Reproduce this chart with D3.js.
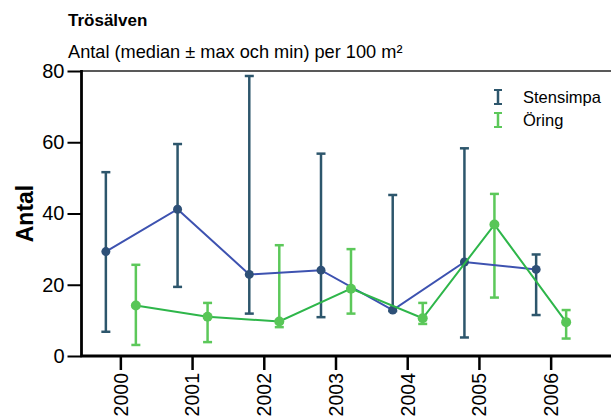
<!DOCTYPE html>
<html><head><meta charset="utf-8">
<script src="https://cdn.jsdelivr.net/npm/d3@7"></script>
<style>body{margin:0;background:#fff;}svg{display:block;font-family:"Liberation Sans",Arial,sans-serif;}</style>
</head><body>
<svg id="c" width="611" height="417"></svg>
<script>
const years = ["2000","2001","2002","2003","2004","2005","2006"];
const stensimpaMedian = [29.3, 41.2, 22.9, 24.1, 12.9, 26.4, 24.3];
const stensimpaMax    = [51.6, 59.5, 78.6, 56.8, 45.2, 58.3, 28.5];
const stensimpaMin    = [6.8, 19.4, 11.9, 10.9, 12.6, 5.2, 11.5];
const oringMedian = [14.2, 11.0, 9.7, 18.9, 10.6, 36.9, 9.5];
const oringMax    = [25.6, 14.9, 31.1, 30.0, 14.9, 45.5, 12.9];
const oringMin    = [3.1, 3.9, 8.1, 11.9, 9.0, 16.4, 4.9];
const yTicks = [0, 20, 40, 60, 80];

const svg = d3.select("#c");
const pLeft = 81.5, pTop = 71, pBottom = 356, pRight = 611;
const x = d3.scaleBand().domain(years).range([85, 587]);
const y = d3.scaleLinear().domain([0, 80]).range([pBottom, pTop]);

// top border
svg.append("line").attr("x1", pLeft).attr("x2", pRight).attr("y1", pTop).attr("y2", pTop)
  .attr("stroke", "#222").attr("stroke-width", 1.5);

// y axis
const ya = svg.append("g").attr("transform", `translate(${pLeft},0)`)
  .call(d3.axisLeft(y).tickValues(yTicks).tickSize(14).tickPadding(3));
ya.select(".domain").remove();
ya.selectAll(".tick line").attr("stroke", "#000").attr("stroke-width", 2);
ya.selectAll("text").attr("font-size", 20).attr("fill", "#000").attr("font-family", "Liberation Sans, Arial, sans-serif");
svg.append("line").attr("x1", pLeft).attr("x2", pLeft).attr("y1", pTop - 1).attr("y2", pBottom + 1)
  .attr("stroke", "#000").attr("stroke-width", 2.8);

// x axis
const xa = svg.append("g").attr("transform", `translate(0,${pBottom})`)
  .call(d3.axisBottom(x).tickSize(14).tickPadding(4));
xa.select(".domain").remove();
xa.selectAll(".tick line").attr("stroke", "#000").attr("stroke-width", 2.5);
xa.selectAll("text").attr("font-size", 19.5).attr("fill", "#000")
  .attr("font-family", "Liberation Sans, Arial, sans-serif")
  .attr("transform", "rotate(-90)").attr("text-anchor", "end")
  .attr("x", -17).attr("y", 0).attr("dy", "0.35em");
svg.append("line").attr("x1", pLeft - 1).attr("x2", pRight).attr("y1", pBottom).attr("y2", pBottom)
  .attr("stroke", "#000").attr("stroke-width", 2.8);

// titles
svg.append("text").attr("x", 68).attr("y", 26).attr("font-size", 17).attr("font-weight", "bold").text("Trösälven");
svg.append("text").attr("x", 68).attr("y", 58).attr("font-size", 18.2).text("Antal (median ± max och min) per 100 m²");
svg.append("text").attr("transform", `translate(32.5,${(pTop + pBottom) / 2}) rotate(-90)`)
  .attr("text-anchor", "middle").attr("font-size", 23).attr("font-weight", "bold").text("Antal");

const series = [
  {name: "Stensimpa", med: stensimpaMedian, max: stensimpaMax, min: stensimpaMin, off: -15,
   bar: "#2d566c", line: "#3d52b0", dot: "#2e5077"},
  {name: "Öring", med: oringMedian, max: oringMax, min: oringMin, off: 15,
   bar: "#5cc85a", line: "#2eb64a", dot: "#58c657"}
];
const cx = (i, s) => x(years[i]) + x.bandwidth() / 2 + s.off;

series.forEach(s => {
  const g = svg.append("g");
  years.forEach((yr, i) => {
    const xx = cx(i, s);
    g.append("line").attr("x1", xx).attr("x2", xx).attr("y1", y(s.max[i])).attr("y2", y(s.min[i]))
      .attr("stroke", s.bar).attr("stroke-width", 2.5);
    [s.max[i], s.min[i]].forEach(v => g.append("line").attr("x1", xx - 4.5).attr("x2", xx + 4.5)
      .attr("y1", y(v)).attr("y2", y(v)).attr("stroke", s.bar).attr("stroke-width", 2.5));
  });
});
series.forEach(s => {
  const line = d3.line().x((d, i) => cx(i, s)).y(d => y(d));
  svg.append("path").datum(s.med).attr("d", line).attr("fill", "none")
    .attr("stroke", s.line).attr("stroke-width", 2);
  svg.append("g").selectAll("circle").data(s.med).join("circle")
    .attr("cx", (d, i) => cx(i, s)).attr("cy", d => y(d)).attr("r", s.name === "Öring" ? 5 : 4.5)
    .attr("fill", s.dot);
});

// legend
const leg = svg.append("g");
series.forEach((s, k) => {
  const yy = 97 + k * 23;
  const lx = 498;
  leg.append("line").attr("x1", lx).attr("x2", lx).attr("y1", yy - 7).attr("y2", yy + 7).attr("stroke", s.bar).attr("stroke-width", 2.5);
  leg.append("line").attr("x1", lx - 4).attr("x2", lx + 4).attr("y1", yy - 7).attr("y2", yy - 7).attr("stroke", s.bar).attr("stroke-width", 2);
  leg.append("line").attr("x1", lx - 4).attr("x2", lx + 4).attr("y1", yy + 7).attr("y2", yy + 7).attr("stroke", s.bar).attr("stroke-width", 2);
  leg.append("text").attr("x", 523).attr("y", yy).attr("dy", "0.35em").attr("font-size", 16.5).text(s.name);
});
</script>
</body></html>
